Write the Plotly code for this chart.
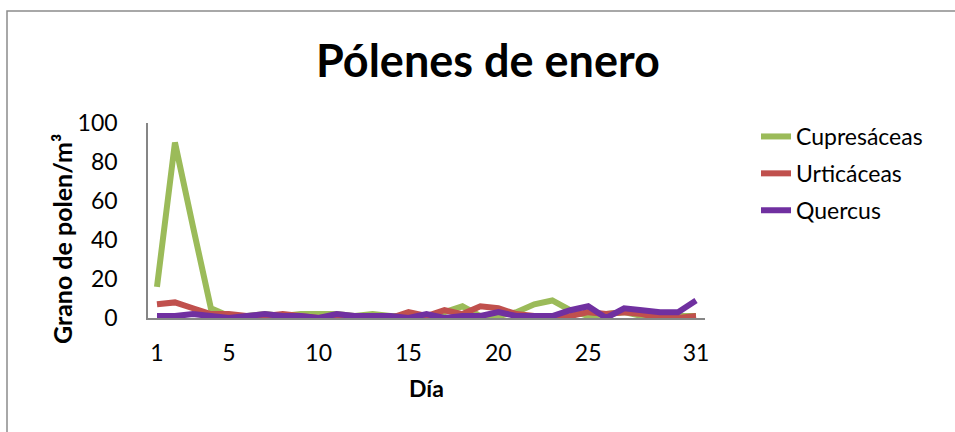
import plotly.graph_objects as go

dias = list(range(1, 32))
cupresaceas = [16, 90, 47, 5, 1, 1, 2, 1, 2, 2, 2, 1, 2, 1, 1, 0, 3, 6, 1, 1, 3, 7, 9, 4, 1, 2, 3, 1, 1, 1, 1]
urticaceas = [7, 8, 5, 2, 2, 1, 1, 2, 1, 0, 1, 0, 0, 0, 3, 1, 4, 2, 6, 5, 2, 1, 0, 1, 3, 2, 3, 2, 0, 0, 1]
quercus = [1, 1, 2, 1, 0, 1, 2, 1, 1, 0, 2, 1, 1, 1, 0, 2, 0, 1, 1, 3, 1, 1, 1, 4, 6, 0, 5, 4, 3, 3, 9]
series_names = ["Cupresáceas", "Urticáceas", "Quercus"]
series_colors = ["#9BBB59", "#C0504D", "#7030A0"]
x_ticks = [1, 5, 10, 15, 20, 25, 31]
y_ticks = [0, 20, 40, 60, 80, 100]

fig = go.Figure()
for name, vals, col in zip(series_names, [cupresaceas, urticaceas, quercus], series_colors):
    fig.add_trace(go.Scatter(x=dias, y=vals, mode="lines", name=name, legendgroup=name,
                             line=dict(color=col, width=6)))

W, H = 955, 432
L, R, T, B = 148, 250, 123, 114
pw, ph = W - L - R, H - T - B

def px2paper_x(px):
    return (px - L) / pw

def px2paper_y(py):
    return (H - B - py) / ph

fig.update_layout(
    width=W, height=H,
    margin=dict(l=L, r=R, t=T, b=B),
    paper_bgcolor="white", plot_bgcolor="white",
    font=dict(family="Lato, Calibri, sans-serif", color="black"),
    title=dict(text="<b>Pólenes de enero</b>", font=dict(size=45, family="Lato"),
               xref="container", x=488 / W, xanchor="center",
               yref="container", y=1 - 61 / H, yanchor="middle"),
    xaxis=dict(range=[0.5, 31.5], tickvals=x_ticks, ticks="", showgrid=False, zeroline=False,
               showline=True, linecolor="#868686", linewidth=2,
               tickfont=dict(size=23), ticklabelstandoff=13,
               title=dict(text="<b>Día</b>", font=dict(size=23), standoff=16)),
    yaxis=dict(range=[0, 100], tickvals=y_ticks, ticks="", showgrid=False, zeroline=False,
               showline=True, linecolor="#868686", linewidth=1.5,
               tickfont=dict(size=23), ticklabelstandoff=24),
    legend=dict(x=px2paper_x(756), xanchor="left", y=px2paper_y(115), yanchor="top",
                font=dict(size=23), tracegroupgap=4, bgcolor="rgba(0,0,0,0)"),
    annotations=[dict(text="<b>Grano de polen/m³</b>", textangle=-90, showarrow=False,
                      xref="paper", yref="paper", x=px2paper_x(62), y=px2paper_y(239),
                      xanchor="center", yanchor="middle", font=dict(size=25))],
    shapes=[dict(type="rect", xref="paper", yref="paper",
                 x0=px2paper_x(7), x1=px2paper_x(1200), y0=px2paper_y(700), y1=px2paper_y(11),
                 line=dict(color="#8C8C8C", width=1.5), layer="below")],
)

fig.write_html("out.html")
